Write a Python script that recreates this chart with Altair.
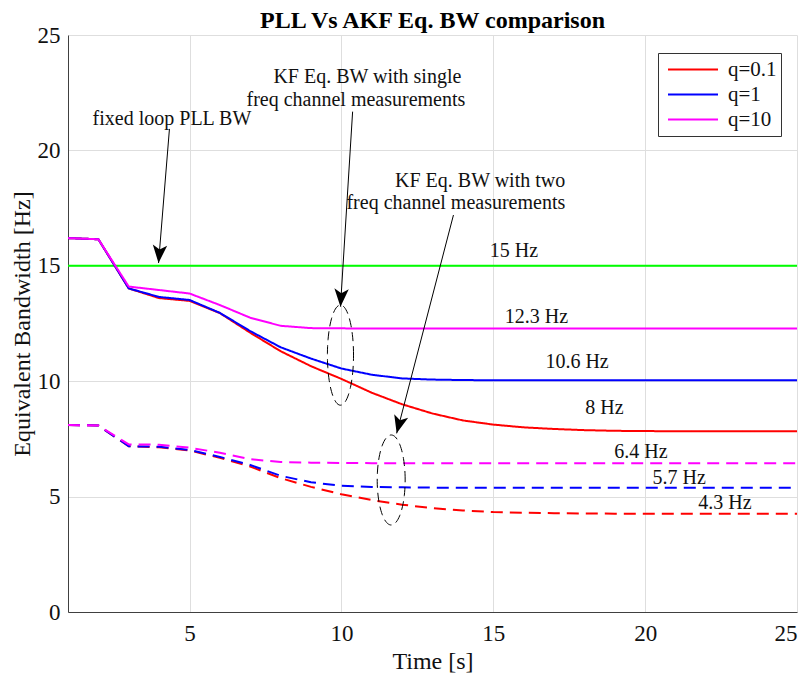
import altair as alt
import pandas as pd
import numpy as np

# ---------------- data ----------------
t = list(range(1, 26))
q_labels = ["q=0.1", "q=1", "q=10"]
q_colors = ["#ff0000", "#0000ff", "#ff00ff"]

# single frequency channel (solid)
red_single = [16.2, 16.15, 14.02, 13.6, 13.48, 12.95, 12.1, 11.3, 10.65, 10.1, 9.5, 9.0, 8.6, 8.3, 8.12,
              8.0, 7.93, 7.88, 7.85, 7.84, 7.83, 7.83, 7.83, 7.83, 7.83]
blue_single = [16.2, 16.15, 14.02, 13.65, 13.52, 12.96, 12.17, 11.47, 10.98, 10.55, 10.28, 10.12, 10.07, 10.05, 10.04,
               10.04, 10.04, 10.04, 10.04, 10.04, 10.04, 10.04, 10.04, 10.04, 10.04]
pink_single = [16.2, 16.15, 14.1, 13.95, 13.8, 13.3, 12.75, 12.4, 12.3, 12.29, 12.28, 12.28, 12.28, 12.28, 12.28,
               12.28, 12.28, 12.28, 12.28, 12.28, 12.28, 12.28, 12.28, 12.28, 12.28]
# two frequency channels (dashed)
red_two = [8.1, 8.08, 7.18, 7.14, 7.0, 6.68, 6.3, 5.8, 5.42, 5.1, 4.85, 4.65, 4.5, 4.4, 4.33,
           4.3, 4.28, 4.27, 4.26, 4.26, 4.26, 4.26, 4.26, 4.26, 4.26]
blue_two = [8.1, 8.08, 7.18, 7.16, 7.02, 6.72, 6.37, 5.9, 5.62, 5.47, 5.42, 5.4, 5.39, 5.38, 5.38,
            5.38, 5.38, 5.38, 5.38, 5.38, 5.38, 5.38, 5.38, 5.38, 5.38]
pink_two = [8.1, 8.08, 7.26, 7.25, 7.12, 6.9, 6.62, 6.5, 6.47, 6.46, 6.45, 6.45, 6.45, 6.45, 6.45,
            6.45, 6.45, 6.45, 6.45, 6.45, 6.45, 6.45, 6.45, 6.45, 6.45]
pll_bw = [15.0] * 25

# value labels
hz_text = ["15 Hz", "12.3 Hz", "10.6 Hz", "8 Hz", "6.4 Hz", "5.7 Hz", "4.3 Hz"]
hz_x = [15.68, 16.42, 17.76, 18.66, 19.86, 21.12, 22.63]
hz_y = [15.65, 12.8, 10.85, 8.83, 6.95, 5.79, 4.74]

# annotation texts
left_text = ["fixed loop PLL BW"]
left_x = [1.81]
left_y = [21.36]
right_text = ["KF Eq. BW with single", "freq channel measurements",
              "KF Eq. BW with two", "freq channel measurements"]
right_x = [13.95, 14.08, 17.37, 17.37]
right_y = [23.18, 22.18, 18.69, 17.7]

# arrows
arrow_tail_x = [4.34, 10.37, 13.69]
arrow_tail_y = [20.93, 21.68, 17.2]
arrow_tip_x = [3.98, 9.97, 11.82]
arrow_tip_y = [15.12, 13.23, 7.74]

# dashed ellipses (center, radii)
ell_cx = [9.97, 11.64]
ell_cy = [11.13, 5.72]
ell_rx = [0.43, 0.46]
ell_ry = [2.17, 1.95]

# ---------------- layout ----------------
W, H = 729, 577
XMIN, XMAX, YMIN, YMAX = 1, 25, 0, 25
PX_X = W / (XMAX - XMIN)
PX_Y = H / (YMAX - YMIN)
FONT = "Liberation Serif"

# ---------------- frames ----------------
rows = []
for q, s, d in zip(q_labels, [red_single, blue_single, pink_single], [red_two, blue_two, pink_two]):
    for ti, v in zip(t, s):
        rows.append({"t": ti, "bw": v, "q": q, "kind": "single", "series": q + "single"})
    for ti, v in zip(t, d):
        rows.append({"t": ti, "bw": v, "q": q, "kind": "two", "series": q + "two"})
df = pd.DataFrame(rows)

df_pll = pd.DataFrame({"t": t, "bw": pll_bw})
df_hz = pd.DataFrame({"x": hz_x, "y": hz_y, "text": hz_text})
df_left = pd.DataFrame({"x": left_x, "y": left_y, "text": left_text})
df_right = pd.DataFrame({"x": right_x, "y": right_y, "text": right_text})

df_arrow = pd.DataFrame({"x": arrow_tail_x, "y": arrow_tail_y, "x2": arrow_tip_x, "y2": arrow_tip_y})
heads = []
HEAD = 18
for tx, ty, hx, hy in zip(arrow_tail_x, arrow_tail_y, arrow_tip_x, arrow_tip_y):
    dx = (hx - tx) * PX_X
    dy = -(hy - ty) * PX_Y
    L = np.hypot(dx, dy)
    ux, uy = dx / L, dy / L
    cx = hx - ux * HEAD / 2 / PX_X
    cy = hy + uy * HEAD / 2 / PX_Y
    ang = float(np.degrees(np.arctan2(-dx, dy))) % 360
    heads.append({"x": cx, "y": cy, "angle": ang})
df_heads = pd.DataFrame(heads)

ell_rows = []
th = np.linspace(0, 2 * np.pi, 90)
for i, (cx, cy, rx, ry) in enumerate(zip(ell_cx, ell_cy, ell_rx, ell_ry)):
    for k, a in enumerate(th):
        ell_rows.append({"id": i, "k": k, "x": cx + rx * np.cos(a), "y": cy + ry * np.sin(a)})
df_ell = pd.DataFrame(ell_rows)

# ---------------- scales / axes ----------------
xscale = alt.Scale(domain=[XMIN, XMAX], nice=False, zero=False)
yscale = alt.Scale(domain=[YMIN, YMAX], nice=False, zero=False)
axis_common = dict(grid=True, gridColor="#dedede", gridWidth=1, domainColor="#404040", domainWidth=1,
                   ticks=False, labelFont=FONT, labelFontSize=23, labelColor="#111111",
                   titleFont=FONT, titleFontSize=24, titleFontWeight="normal", titleColor="#111111")
xaxis = alt.Axis(values=[5, 10, 15, 20, 25], title="Time [s]", labelPadding=10, titlePadding=4, **axis_common)
yaxis = alt.Axis(values=[0, 5, 10, 15, 20, 25], title="Equivalent Bandwidth [Hz]", labelPadding=8,
                 titlePadding=3, **axis_common)

pll = alt.Chart(df_pll).mark_line(color="#00ff00", strokeWidth=2).encode(
    x=alt.X("t:Q", scale=xscale, axis=xaxis),
    y=alt.Y("bw:Q", scale=yscale, axis=yaxis),
)

lines = alt.Chart(df).mark_line(strokeWidth=2).encode(
    x=alt.X("t:Q", scale=xscale),
    y=alt.Y("bw:Q", scale=yscale),
    color=alt.Color("q:N", scale=alt.Scale(domain=q_labels, range=q_colors),
                    legend=alt.Legend(title=None, orient="none", legendX=590, legendY=18,
                                      strokeColor="#333333", fillColor="white", padding=4,
                                      symbolType="stroke", symbolSize=2500, symbolStrokeWidth=2,
                                      clipHeight=25, rowPadding=0, symbolOffset=5, labelOffset=9,
                                      labelFont=FONT, labelFontSize=21, labelColor="#111111",
                                      cornerRadius=0)),
    strokeDash=alt.StrokeDash("kind:N", scale=alt.Scale(domain=["single", "two"], range=[[1, 0], [12, 7]]),
                              legend=None),
    detail="series:N",
)

hz = alt.Chart(df_hz).mark_text(font=FONT, fontSize=20, color="#111111", baseline="middle", align="center").encode(
    x=alt.X("x:Q", scale=xscale), y=alt.Y("y:Q", scale=yscale), text="text:N")

ann_left = alt.Chart(df_left).mark_text(font=FONT, fontSize=20, color="#111111", baseline="middle",
                                        align="left").encode(
    x=alt.X("x:Q", scale=xscale), y=alt.Y("y:Q", scale=yscale), text="text:N")

ann_right = alt.Chart(df_right).mark_text(font=FONT, fontSize=20, color="#111111", baseline="middle",
                                          align="right").encode(
    x=alt.X("x:Q", scale=xscale), y=alt.Y("y:Q", scale=yscale), text="text:N")

arrows = alt.Chart(df_arrow).mark_rule(color="black", strokeWidth=1).encode(
    x=alt.X("x:Q", scale=xscale), y=alt.Y("y:Q", scale=yscale), x2="x2:Q", y2="y2:Q")

arrowheads = alt.Chart(df_heads).mark_point(
    shape="M0,1L-0.8,-1L0,-0.5L0.8,-1Z", size=HEAD * HEAD, filled=True, color="black", opacity=1,
    strokeWidth=0).encode(
    x=alt.X("x:Q", scale=xscale), y=alt.Y("y:Q", scale=yscale), angle=alt.Angle("angle:Q", scale=None))

ellipses = alt.Chart(df_ell).mark_line(color="black", strokeWidth=1, strokeDash=[9, 5]).encode(
    x=alt.X("x:Q", scale=xscale), y=alt.Y("y:Q", scale=yscale), detail="id:N", order="k:Q")

chart = alt.layer(pll, lines, hz, ann_left, ann_right, arrows, arrowheads, ellipses).properties(
    width=W, height=H,
    title=alt.TitleParams("PLL Vs AKF Eq. BW comparison", font=FONT, fontSize=24, fontWeight="bold",
                          anchor="middle", offset=-9, color="black"),
    autosize=alt.AutoSizeParams(type="none"),
    padding={"left": 60, "top": 27, "right": 4, "bottom": 66},
    background="white",
).configure_view(stroke=None)

chart.save("out.html", embed_options={"renderer": "svg", "actions": False})
